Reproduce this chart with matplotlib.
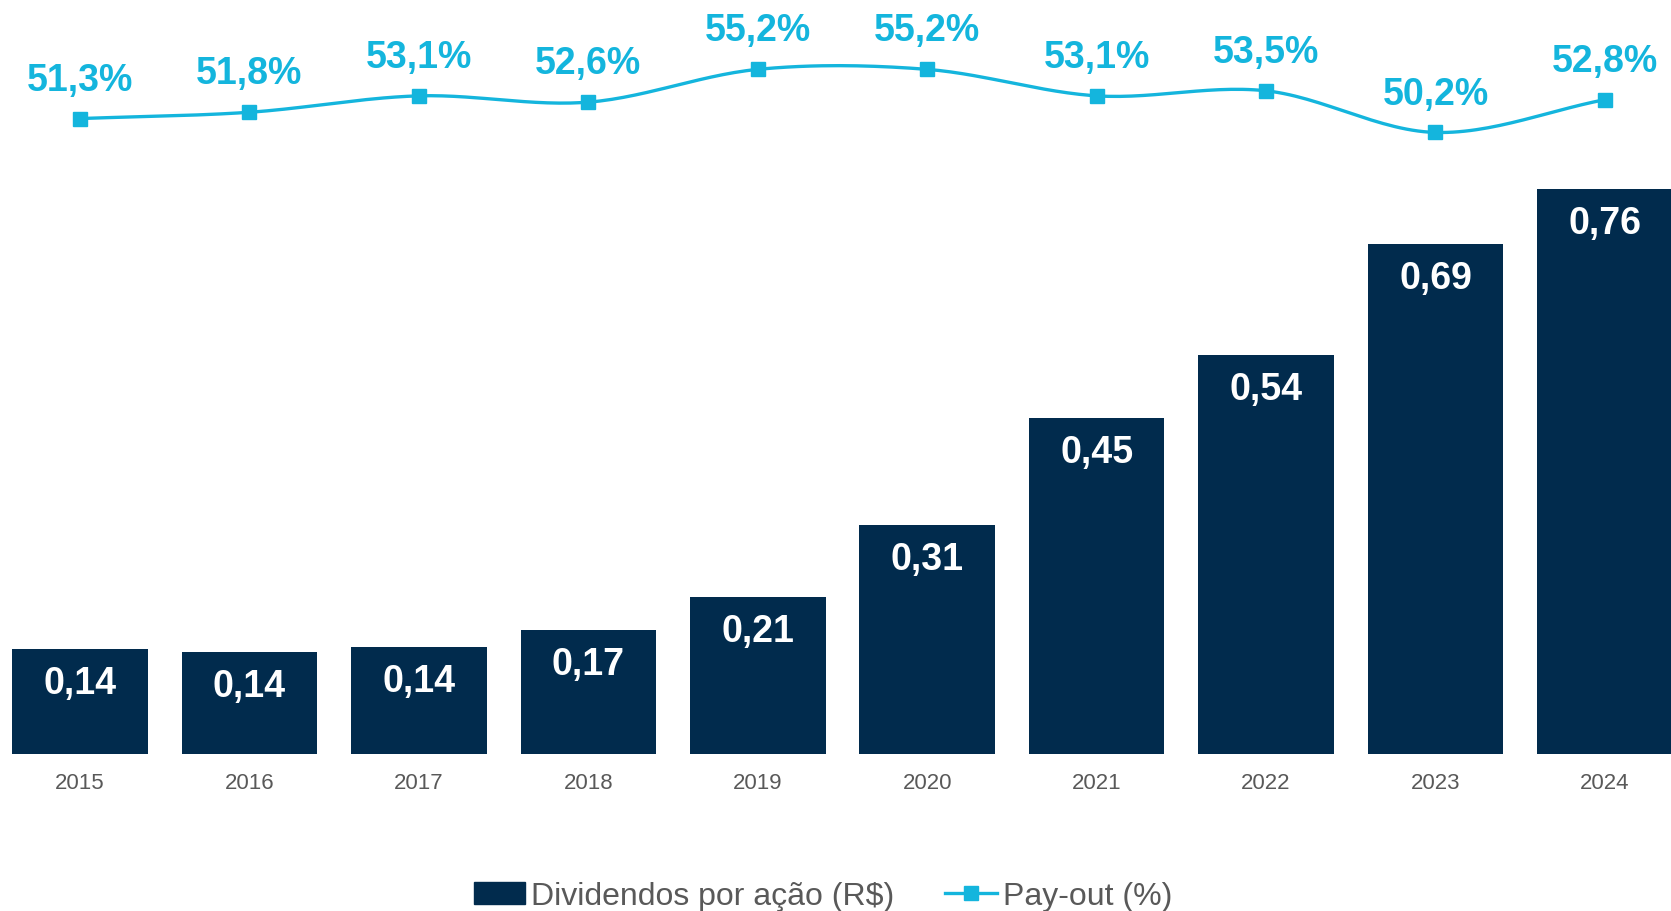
import numpy as np
import matplotlib
matplotlib.use("Agg")
import matplotlib.pyplot as plt
from matplotlib.lines import Line2D
from matplotlib.patches import Patch

plt.rcParams["font.family"] = ["Liberation Sans", "DejaVu Sans"]

# data
years = ["2015", "2016", "2017", "2018", "2019", "2020", "2021", "2022", "2023", "2024"]
dividends = [0.141, 0.137, 0.144, 0.167, 0.211, 0.308, 0.452, 0.537, 0.686, 0.76]
payout = [51.3, 51.8, 53.1, 52.6, 55.2, 55.2, 53.1, 53.5, 50.2, 52.8]

BAR = "#012B4D"
LINE = "#14B5DD"
GREY = "#595959"

W, H = 1671, 912
fig = plt.figure(figsize=(W / 100, H / 100), dpi=100, facecolor="white")

base = 755  # baseline, px from top
ax = fig.add_axes([0, 1 - base / H, 1, base / H])
x = np.arange(len(years))
ax.bar(x, dividends, width=0.8, color=BAR, zorder=2)
ax.set_xlim(-0.472, 9.39)
ax.set_ylim(0, base / 743)
for s in ax.spines.values():
    s.set_visible(False)
ax.set_yticks([])
ax.set_xticks(x)
ax.set_xticklabels(years, color=GREY, fontsize=16)
ax.tick_params(axis="x", length=0, pad=13)

for xi, v in zip(x, dividends):
    ax.annotate(f"{v:.2f}".replace(".", ","), (xi, v), xytext=(0, -24.5),
                textcoords="offset points", ha="center", va="center",
                color="white", fontsize=27, fontweight="bold")

# pay-out line on its own scale
ax2 = ax.twinx()
ax2.set_ylim(0.76 + 2 / 12.58, 60.62 + 2 / 12.58)
ax2.set_axis_off()


def smooth(xs, ys, n=30):
    # Catmull-Rom curve through the points, like a smoothed office line
    px = np.concatenate([[2 * xs[0] - xs[1]], xs, [2 * xs[-1] - xs[-2]]])
    py = np.concatenate([[2 * ys[0] - ys[1]], ys, [2 * ys[-1] - ys[-2]]])
    outx, outy = [], []
    t = np.linspace(0, 1, n)
    for i in range(1, len(px) - 2):
        for p, out in ((px, outx), (py, outy)):
            p0, p1, p2, p3 = p[i - 1], p[i], p[i + 1], p[i + 2]
            out.extend(0.5 * (2 * p1 + (-p0 + p2) * t
                              + (2 * p0 - 5 * p1 + 4 * p2 - p3) * t ** 2
                              + (-p0 + 3 * p1 - 3 * p2 + p3) * t ** 3))
    return outx, outy


sx, sy = smooth(x.astype(float), np.array(payout, dtype=float))
ax2.plot(sx, sy, color=LINE, lw=2.4, zorder=3)
ax2.plot(x, payout, ls="none", marker="s", ms=10, color=LINE, zorder=4)
for xi, v in zip(x, payout):
    ax2.annotate(f"{v:.1f}%".replace(".", ","), (xi, v), xytext=(0, 28),
                 textcoords="offset points", ha="center", va="center",
                 color=LINE, fontsize=27, fontweight="bold")

handles = [Patch(color=BAR),
           Line2D([], [], color=LINE, lw=2.4, marker="s", ms=10)]
fig.legend(handles, ["Dividendos por ação (R$)", "Pay-out (%)"],
           loc="center", bbox_to_anchor=(823 / W, 1 - 897 / H), ncol=2,
           frameon=False, fontsize=23, labelcolor=GREY, handlelength=1.6,
           handletextpad=0.2, columnspacing=1.6)

fig.savefig("out.png", dpi=100, facecolor="white")
